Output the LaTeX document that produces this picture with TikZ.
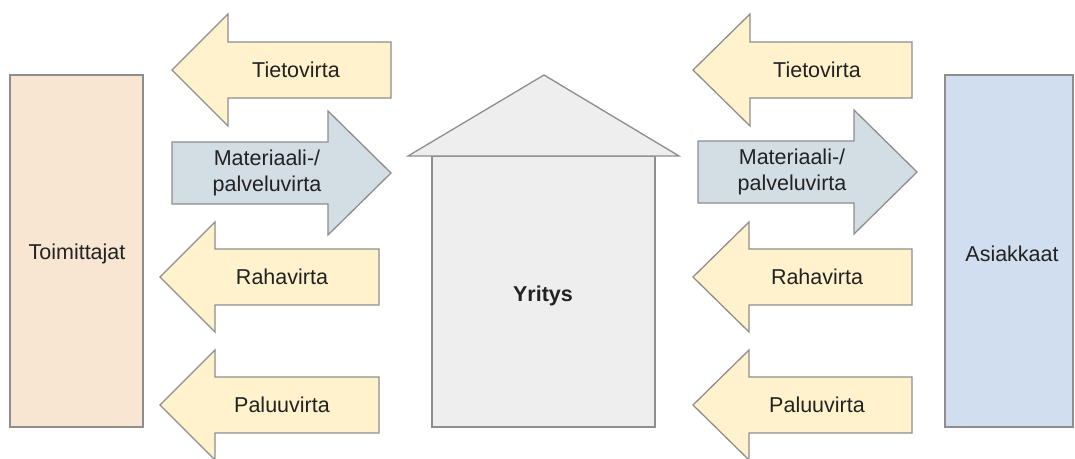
\documentclass[tikz,border=0pt]{standalone}
\usepackage{fontspec}
\setmainfont{Liberation Sans}
\definecolor{arrowyellow}{HTML}{FFF2CC}
\definecolor{arrowblue}{HTML}{D3DEE4}
\definecolor{peach}{HTML}{F8E5D2}
\definecolor{paleblue}{HTML}{D1DEEF}
\definecolor{housegray}{HTML}{EEEEEE}
\definecolor{edgegray}{HTML}{8E8E8E}
\definecolor{textdark}{HTML}{222222}
\tikzset{
  shapeline/.style={draw=edgegray, line width=1.3pt, line join=miter},
  yarrow/.style={shapeline, fill=arrowyellow},
  barrow/.style={shapeline, fill=arrowblue},
  lbl/.style={font=\fontsize{21.5}{26}\selectfont, align=center, inner sep=0pt, text=textdark},
}
% left-pointing arrow: tip x, base x, right x, centre y, head half, shaft half
\newcommand{\flowleftshape}[6]{%
  \draw[yarrow] (#1,#4) -- (#2,#4-#5) -- (#2,#4-#6) -- (#3,#4-#6) -- (#3,#4+#6) -- (#2,#4+#6) -- (#2,#4+#5) -- cycle;}
% right-pointing arrow: left x, base x, tip x, centre y, head half, shaft half
\newcommand{\flowrightshape}[6]{%
  \draw[barrow] (#1,#4-#6) -- (#2,#4-#6) -- (#2,#4-#5) -- (#3,#4) -- (#2,#4+#5) -- (#2,#4+#6) -- (#1,#4+#6) -- cycle;}
\begin{document}
\begin{tikzpicture}[x=1pt,y=-1pt]
\useasboundingbox (0,0) rectangle (1075,458);
\clip (0,0) rectangle (1075,458);

% side boxes
\draw[shapeline, fill=peach] (10,75) rectangle (143,427);
\node[lbl] (toim) at (77,254) {Toimittajat};
\draw[shapeline, fill=paleblue] (945,75) rectangle (1073,427);
\node[lbl] (asia) at (1012,254) {Asiakkaat};

% house
\draw[shapeline, fill=housegray] (432,156) rectangle (655,427);
\draw[shapeline, fill=housegray] (408,156) -- (544,75) -- (679,156) -- cycle;
\node[lbl, font=\fontsize{21.5}{26}\selectfont\bfseries] (yritys) at (543,296) {Yritys};

% left arrows
\flowleftshape{172}{228}{391}{70}{56}{28}
\node[lbl] (ltieto) at (296,70) {Tietovirta};
\flowrightshape{172}{328}{391}{173}{62}{31}
\node[lbl] (lmat) at (267,173) {Materiaali-/\\palveluvirta};
\flowleftshape{160}{215}{379}{277}{55}{28}
\node[lbl] (lraha) at (282,277) {Rahavirta};
\flowleftshape{160}{215}{379}{405}{55}{28}
\node[lbl] (lpaluu) at (282,405) {Paluuvirta};

% right arrows
\flowleftshape{693}{750}{912}{70}{56}{28}
\node[lbl] (rtieto) at (817,70) {Tietovirta};
\flowrightshape{698}{854}{917}{172}{62}{31}
\node[lbl] (rmat) at (792,172) {Materiaali-/\\palveluvirta};
\flowleftshape{693}{749}{912}{277}{55}{28}
\node[lbl] (rraha) at (817,277) {Rahavirta};
\flowleftshape{693}{749}{912}{405}{55}{28}
\node[lbl] (rpaluu) at (817,405) {Paluuvirta};
\end{tikzpicture}
\end{document}
